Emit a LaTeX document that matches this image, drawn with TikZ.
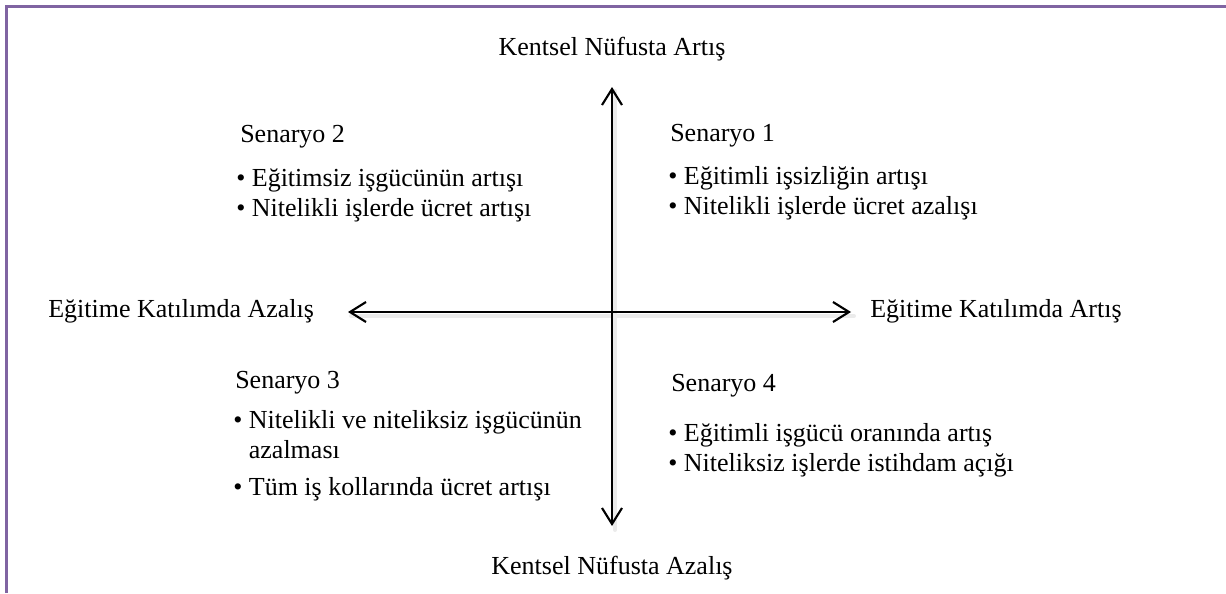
\documentclass[tikz,border=0pt]{standalone}
\usepackage{fontspec}
\setmainfont{Liberation Serif}
\usepackage{xcolor}
\usetikzlibrary{arrows.meta, positioning}
\definecolor{framepurple}{RGB}{128,100,162}

\begin{document}
\begin{tikzpicture}[x=0.75pt, y=-0.75pt,
  every node/.style={font=\fontsize{19.5}{22.5}\selectfont, inner sep=0pt},
  axisarrow/.style={line width=1.6pt, {Straight Barb[length=12pt,width=15pt]}-{Straight Barb[length=12pt,width=15pt]}},
  axisshadow/.style={line width=3pt, black!8, line cap=round},
  scenlist/.style={anchor=base west, align=left}]
\useasboundingbox (0,0) rectangle (1226,593);
% ============= frame: only top and left edges =============
\draw[framepurple, line width=2.2pt] (6.5,593) -- (6.5,6.5) -- (1226,6.5);

% ============= axes =============
\coordinate (up) at (612,87);
\coordinate (down) at (612,526);
\coordinate (left) at (348,312);
\coordinate (right) at (851,312);
% soft shadow under the arrows
\draw[axisshadow] ([shift={(3,4)}]up) -- ([shift={(3,4)}]down);
\draw[axisshadow] ([shift={(3,4)}]left) -- ([shift={(3,4)}]right);
\draw[axisarrow] (up) -- (down);
\draw[axisarrow] (left) -- (right);

% axis labels
\node[anchor=base] (urbanup) at (612,55) {Kentsel Nüfusta Artış};
\node[anchor=base] (urbandown) at (612,574) {Kentsel Nüfusta Azalış};
\node[anchor=base west] (edudown) at (48,317) {Eğitime Katılımda Azalış};
\node[anchor=base west] (eduup) at (870,317) {Eğitime Katılımda Artış};

% ============= scenarios =============
% (a list node sits on the baseline of its last line)
% Senaryo 2 (upper left)
\node[anchor=base west] (s2) at (240,142) {Senaryo 2};
\node[scenlist] (s2list) at (236,216)
  {\textbullet\ Eğitimsiz işgücünün artışı\\
   \textbullet\ Nitelikli işlerde ücret artışı};

% Senaryo 1 (upper right)
\node[anchor=base west] (s1) at (670,141) {Senaryo 1};
\node[scenlist] (s1list) at (668,214)
  {\textbullet\ Eğitimli işsizliğin artışı\\
   \textbullet\ Nitelikli işlerde ücret azalışı};

% Senaryo 3 (lower left)
\node[anchor=base west] (s3) at (235,388) {Senaryo 3};
\node[scenlist] (s3list) at (233,495)
  {\textbullet\ Nitelikli ve niteliksiz işgücünün\\
   \hphantom{\textbullet\ }azalması\\[5pt]
   \textbullet\ Tüm iş kollarında ücret artışı};

% Senaryo 4 (lower right)
\node[anchor=base west] (s4) at (671,391) {Senaryo 4};
\node[scenlist] (s4list) at (668,471)
  {\textbullet\ Eğitimli işgücü oranında artış\\
   \textbullet\ Niteliksiz işlerde istihdam açığı};
\end{tikzpicture}
\end{document}
